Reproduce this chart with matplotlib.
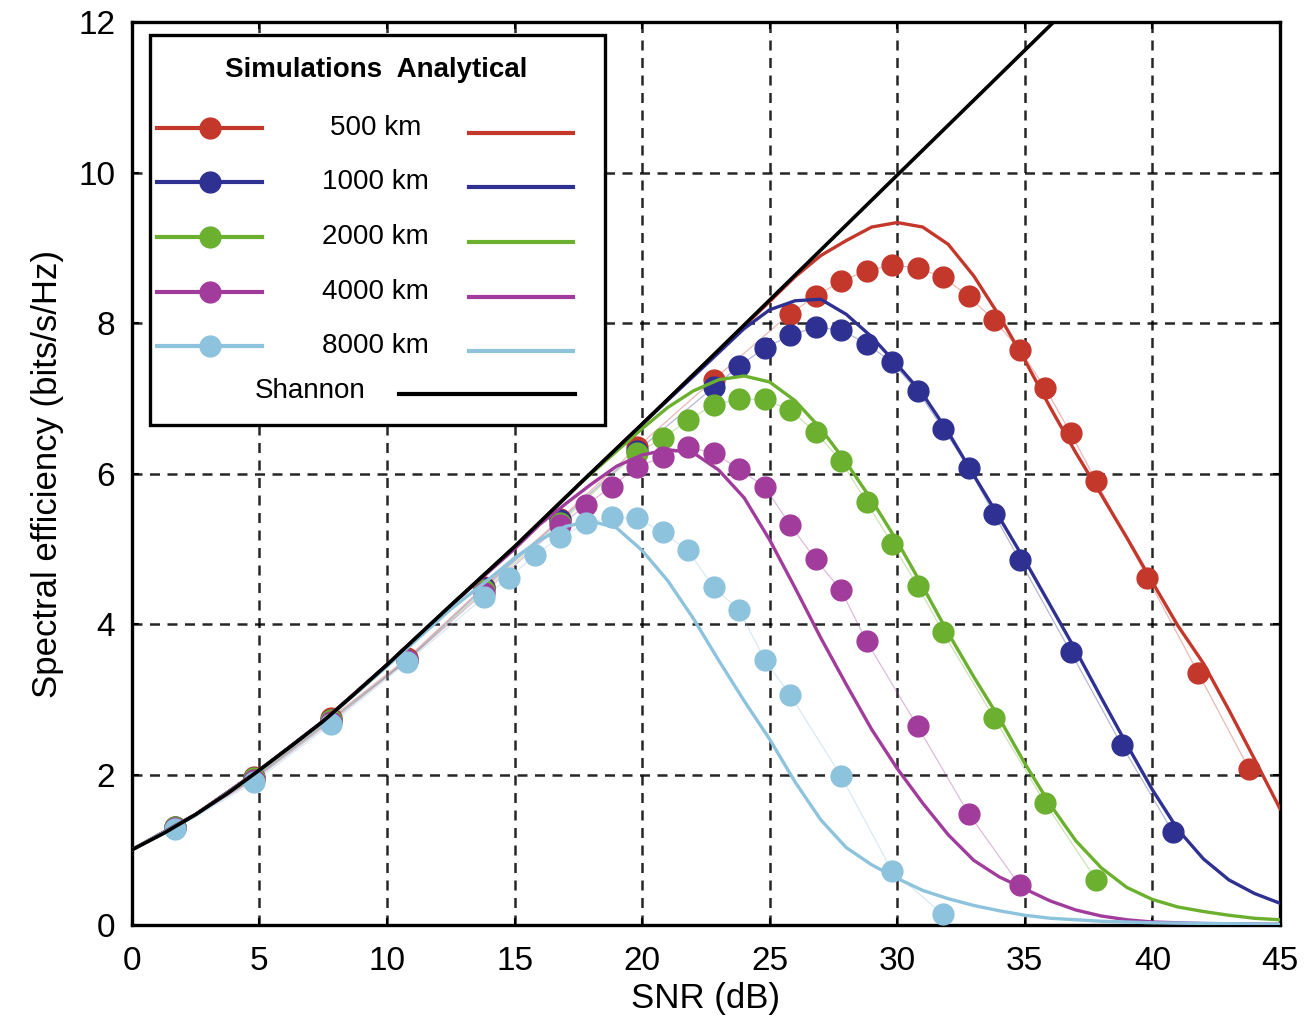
import matplotlib
matplotlib.use('Agg')
import matplotlib.pyplot as plt
from matplotlib.lines import Line2D

plt.rcParams['font.family'] = ['Liberation Sans', 'DejaVu Sans']

### Data

# Shannon limit
snr_shannon = [0, 1.25, 2.5, 3.75, 5, 6.25, 7.5, 8.75, 10, 12.5, 15, 17.5, 20, 22.5, 25, 27.5, 30,
               32.5, 35, 37.5]
se_shannon = [1.0, 1.22, 1.47, 1.75, 2.06, 2.38, 2.71, 3.08, 3.46, 4.25, 5.03, 5.85, 6.66, 7.48, 8.31,
              9.14, 9.97, 10.8, 11.63, 12.46]

# analytical curves
snr_an_500 = [0, 2.5, 5, 7.5, 10, 12.5, 15, 17.5, 20, 22.5, 25, 26, 27, 28, 29, 30, 31, 32, 33, 34, 35,
              36, 37, 38, 39, 40, 41, 42, 43, 44, 45]
se_an_500 = [1.0, 1.47, 2.06, 2.71, 3.46, 4.25, 5.03, 5.85, 6.66, 7.48, 8.29, 8.62, 8.9, 9.1, 9.28, 9.34,
             9.28, 9.05, 8.63, 8.1, 7.51, 6.88, 6.28, 5.72, 5.15, 4.56, 3.98, 3.48, 2.86, 2.21, 1.55]

snr_an_1000 = [0, 2.5, 5, 7.5, 10, 12.5, 15, 17.5, 20, 22.5, 24, 25, 26, 27, 28, 29, 30, 31, 32, 33, 34,
               35, 36, 37, 38, 39, 40, 41, 42, 43, 44, 45]
se_an_1000 = [1.0, 1.47, 2.06, 2.71, 3.46, 4.25, 5.03, 5.85, 6.66, 7.45, 7.93, 8.18, 8.3, 8.32, 8.12, 7.82,
              7.45, 7.06, 6.55, 5.98, 5.42, 4.85, 4.25, 3.65, 3.02, 2.4, 1.8, 1.27, 0.88, 0.6, 0.42, 0.29]

snr_an_2000 = [0, 2.5, 5, 7.5, 10, 12.5, 15, 17.5, 19, 20, 21, 22, 23, 24, 25, 26, 27, 28, 29, 30, 31,
               32, 33, 34, 35, 36, 37, 38, 39, 40, 41, 42, 43, 44, 45]
se_an_2000 = [1.0, 1.47, 2.06, 2.71, 3.46, 4.25, 5.03, 5.85, 6.3, 6.6, 6.88, 7.1, 7.25, 7.3, 7.22, 6.97,
              6.6, 6.15, 5.65, 5.1, 4.5, 3.88, 3.3, 2.75, 2.15, 1.6, 1.12, 0.76, 0.5, 0.34, 0.24, 0.18,
              0.13, 0.09, 0.07]

snr_an_4000 = [0, 2.5, 5, 7.5, 10, 12.5, 15, 16, 17, 18, 19, 20, 21, 22, 23, 24, 25, 26, 27, 28, 29, 30,
               31, 32, 33, 34, 35, 36, 37, 38, 39, 40, 42, 45]
se_an_4000 = [1.0, 1.47, 2.06, 2.71, 3.46, 4.25, 5.0, 5.33, 5.6, 5.86, 6.1, 6.25, 6.32, 6.28, 6.05, 5.68,
              5.12, 4.48, 3.82, 3.2, 2.6, 2.08, 1.62, 1.2, 0.86, 0.64, 0.48, 0.32, 0.2, 0.12, 0.07, 0.04,
              0.02, 0.01]

snr_an_8000 = [0, 2.5, 5, 7.5, 10, 12.5, 14, 15, 16, 17, 18, 19, 20, 21, 22, 23, 24, 25, 26, 27, 28, 29,
               30, 31, 32, 33, 34, 35, 36, 38, 40, 45]
se_an_8000 = [1.0, 1.46, 2.05, 2.7, 3.44, 4.2, 4.6, 4.88, 5.12, 5.3, 5.37, 5.28, 4.98, 4.58, 4.08, 3.52,
              2.98, 2.47, 1.9, 1.4, 1.03, 0.8, 0.62, 0.46, 0.35, 0.26, 0.19, 0.13, 0.09, 0.05, 0.03, 0.01]

# simulation points
snr_sim_500 = [1.7, 4.8, 7.8, 10.8, 13.8, 16.8, 19.8, 22.8, 25.8, 26.8, 27.8, 28.8, 29.8, 30.8, 31.8,
               32.8, 33.8, 34.8, 35.8, 36.8, 37.8, 39.8, 41.8, 43.8]
se_sim_500 = [1.3, 1.97, 2.75, 3.55, 4.5, 5.4, 6.35, 7.25, 8.13, 8.36, 8.56, 8.70, 8.77, 8.74, 8.61,
              8.36, 8.04, 7.65, 7.14, 6.54, 5.90, 4.62, 3.35, 2.07]

snr_sim_1000 = [1.7, 4.8, 7.8, 10.8, 13.8, 16.8, 19.8, 22.8, 23.8, 24.8, 25.8, 26.8, 27.8, 28.8, 29.8,
                30.8, 31.8, 32.8, 33.8, 34.8, 36.8, 38.8, 40.8]
se_sim_1000 = [1.3, 1.95, 2.73, 3.53, 4.48, 5.38, 6.3, 7.15, 7.43, 7.67, 7.84, 7.95, 7.91, 7.73, 7.48,
               7.10, 6.60, 6.08, 5.46, 4.85, 3.63, 2.39, 1.24]

snr_sim_2000 = [1.7, 4.8, 7.8, 10.8, 13.8, 16.8, 19.8, 20.8, 21.8, 22.8, 23.8, 24.8, 25.8, 26.8, 27.8,
                28.8, 29.8, 30.8, 31.8, 33.8, 35.8, 37.8]
se_sim_2000 = [1.3, 1.95, 2.72, 3.52, 4.45, 5.35, 6.28, 6.47, 6.71, 6.92, 6.99, 6.99, 6.85, 6.55, 6.17,
               5.62, 5.07, 4.51, 3.89, 2.75, 1.62, 0.60]

snr_sim_4000 = [1.7, 4.8, 7.8, 10.8, 13.8, 16.8, 17.8, 18.8, 19.8, 20.8, 21.8, 22.8, 23.8, 24.8, 25.8,
                26.8, 27.8, 28.8, 30.8, 32.8, 34.8]
se_sim_4000 = [1.29, 1.93, 2.7, 3.52, 4.42, 5.32, 5.58, 5.83, 6.09, 6.22, 6.35, 6.28, 6.06, 5.83, 5.32,
               4.86, 4.45, 3.77, 2.64, 1.48, 0.53]

snr_sim_8000 = [1.7, 4.8, 7.8, 10.8, 13.8, 14.8, 15.8, 16.8, 17.8, 18.8, 19.8, 20.8, 21.8, 22.8, 23.8,
                24.8, 25.8, 27.8, 29.8, 31.8]
se_sim_8000 = [1.28, 1.9, 2.67, 3.5, 4.36, 4.62, 4.92, 5.16, 5.34, 5.42, 5.41, 5.22, 4.98, 4.49, 4.19,
               3.53, 3.06, 1.98, 0.72, 0.14]

labels = ['500 km', '1000 km', '2000 km', '4000 km', '8000 km']
colors = ['#C4372B', '#2E3192', '#6BB02E', '#A23C9C', '#8DC3DD']

sim_x = [snr_sim_500, snr_sim_1000, snr_sim_2000, snr_sim_4000, snr_sim_8000]
sim_y = [se_sim_500, se_sim_1000, se_sim_2000, se_sim_4000, se_sim_8000]
an_x = [snr_an_500, snr_an_1000, snr_an_2000, snr_an_4000, snr_an_8000]
an_y = [se_an_500, se_an_1000, se_an_2000, se_an_4000, se_an_8000]

### Plot
fig = plt.figure(figsize=(13.06, 10.21), dpi=100)
ax = fig.add_axes([0.101, 0.094, 0.879, 0.884])

ax.grid(True, color='black', linestyle=(0, (4, 3)), linewidth=1.8, alpha=0.85)
ax.set_axisbelow(True)

# simulations: faint connecting line + dots (light blue ends up on top at low SNR)
for i in range(5):
    ax.plot(sim_x[i], sim_y[i], color=colors[i], linewidth=0.9, alpha=0.35, zorder=2)
    ax.plot(sim_x[i], sim_y[i], linestyle='none', marker='o', markersize=15,
            color=colors[i], zorder=3)

# analytical curves
for i in range(5):
    ax.plot(an_x[i], an_y[i], color=colors[i], linewidth=2.4, zorder=4)

ax.plot(snr_shannon, se_shannon, color='black', linewidth=2.6, zorder=5)

ax.set_xlim(0, 45)
ax.set_ylim(0, 12)
ax.set_xticks(range(0, 46, 5))
ax.set_yticks(range(0, 13, 2))
ax.tick_params(direction='in', length=5, width=1.5, labelsize=24, top=True, right=True)
ax.tick_params(axis='x', pad=15)
ax.tick_params(axis='y', pad=12)
for s in ax.spines.values():
    s.set_linewidth(2.4)

ax.set_xlabel('SNR (dB)', fontsize=25, labelpad=4)
ax.set_ylabel('Spectral efficiency (bits/s/Hz)', fontsize=25, labelpad=10)

# hand-built legend box
tr = ax.transAxes
box = plt.Rectangle((0.0157, 0.5537), 0.3963, 0.4319, transform=tr, facecolor='white',
                    edgecolor='black', linewidth=2.4, zorder=10)
ax.add_patch(box)
ax.text(0.213, 0.947, 'Simulations  Analytical', transform=tr, fontsize=20,
        fontweight='bold', ha='center', va='center', zorder=11)
row_y = [0.883, 0.823, 0.762, 0.701, 0.641]
for i in range(5):
    ax.add_line(Line2D([0.0218, 0.113], [row_y[i], row_y[i]], transform=tr, color=colors[i],
                       linewidth=3, zorder=11))
    ax.add_line(Line2D([0.0679], [row_y[i]], transform=tr, color=colors[i], marker='o',
                       markersize=15, zorder=12))
    ax.text(0.212, row_y[i], labels[i], transform=tr, fontsize=20, ha='center', va='center',
            zorder=11)
    ax.add_line(Line2D([0.294, 0.384], [row_y[i] - 0.005, row_y[i] - 0.005], transform=tr,
                       color=colors[i], linewidth=3, zorder=11))
ax.text(0.155, 0.592, 'Shannon', transform=tr, fontsize=20, ha='center', va='center', zorder=11)
ax.add_line(Line2D([0.233, 0.386], [0.588, 0.588], transform=tr, color='black', linewidth=3,
                   zorder=11))

fig.savefig('out.png', dpi=100)
